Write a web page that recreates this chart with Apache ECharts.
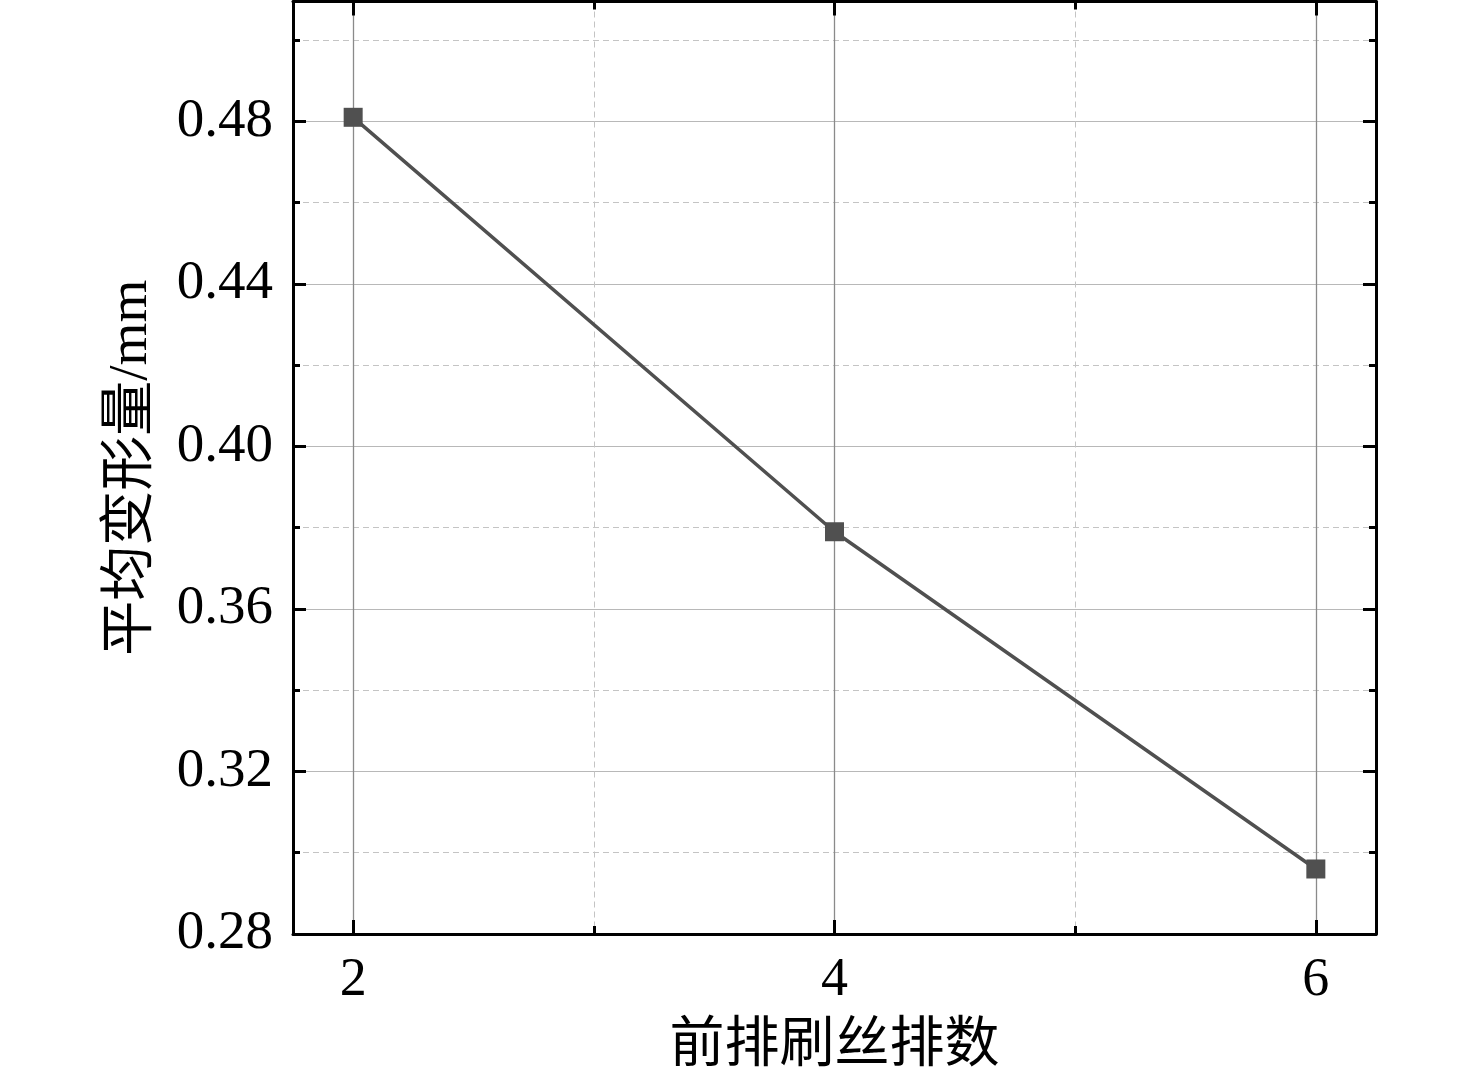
<!DOCTYPE html>
<html>
<head>
<meta charset="utf-8">
<script src="https://cdn.jsdelivr.net/npm/echarts@6/dist/echarts.min.js"></script>
<style>
html,body{margin:0;padding:0;background:#fff;}
#chart{width:1476px;height:1082px;}
</style>
</head>
<body>
<div id="chart"></div>
<script>
// Data
const rowCounts = [2, 4, 6];
const avgDeformation = [0.481, 0.379, 0.296];
const xMajorTicks = [2, 4, 6];
const xMinorTicks = [3, 5];
const yMajorTicks = [0.28, 0.32, 0.36, 0.40, 0.44, 0.48];
const yMinorTicks = [0.30, 0.34, 0.38, 0.42, 0.46, 0.50];
const xTitle = '前排刷丝排数';
const yTitle = '平均变形量/mm';

const X_MIN = 1.75, X_MAX = 6.25, Y_MIN = 0.28, Y_MAX = 0.5095;
const FONT = '"Liberation Serif", "Times New Roman", "Noto Sans CJK SC", serif';

function xAx(pos, ticks, len, opts) {
  return Object.assign({
    type: 'value', position: pos, min: X_MIN, max: X_MAX, offset: 0,
    axisLine: { show: false },
    axisTick: { show: true, inside: true, length: len, customValues: ticks, lineStyle: { color: '#000', width: 3 } },
    axisLabel: { show: false },
    splitLine: { show: false }
  }, opts || {});
}
function yAx(pos, ticks, len, opts) {
  return Object.assign({
    type: 'value', position: pos, min: Y_MIN, max: Y_MAX, offset: 0,
    axisLine: { show: false },
    axisTick: { show: true, inside: true, length: len, customValues: ticks, lineStyle: { color: '#000', width: 3 } },
    axisLabel: { show: false },
    splitLine: { show: false }
  }, opts || {});
}

const option = {
  backgroundColor: '#fff',
  animation: false,
  grid: { left: 293, right: 100, top: 1.5, bottom: 148, containLabel: false },
  xAxis: [
    xAx('bottom', xMajorTicks, 14, {
      axisLine: { show: true, onZero: false, lineStyle: { color: '#000', width: 3 } },
      axisLabel: { show: true, customValues: xMajorTicks, margin: 20, color: '#000', fontSize: 54, fontFamily: FONT },
      splitLine: { show: true, lineStyle: { color: '#8a8a8a', width: 1.3 } },
      name: xTitle, nameLocation: 'middle', nameGap: 85,
      nameTextStyle: { color: '#000', fontSize: 55, fontFamily: FONT }
    }),
    xAx('bottom', xMinorTicks, 8, {
      splitLine: { show: true, lineStyle: { color: '#c4c4c4', width: 1, type: [6, 4] } }
    }),
    xAx('top', xMajorTicks, 14, {
      axisLine: { show: true, onZero: false, lineStyle: { color: '#000', width: 3 } }
    }),
    xAx('top', xMinorTicks, 8)
  ],
  yAxis: [
    yAx('left', yMajorTicks, 13, {
      axisLine: { show: true, onZero: false, lineStyle: { color: '#000', width: 3 } },
      axisLabel: { show: true, customValues: yMajorTicks, margin: 20, color: '#000', fontSize: 55, fontFamily: FONT,
        formatter: v => v.toFixed(2) },
      splitLine: { show: true, lineStyle: { color: '#b8b8b8', width: 1.2 } },
      name: yTitle, nameLocation: 'middle', nameGap: 134, nameRotate: 90,
      nameTextStyle: { color: '#000', fontSize: 55, fontFamily: FONT }
    }),
    yAx('left', yMinorTicks, 7, {
      splitLine: { show: true, lineStyle: { color: '#c4c4c4', width: 1, type: [6, 4] } }
    }),
    yAx('right', yMajorTicks, 13, {
      axisLine: { show: true, onZero: false, lineStyle: { color: '#000', width: 3 } }
    }),
    yAx('right', yMinorTicks, 7)
  ],
  series: [{
    type: 'line',
    xAxisIndex: 0, yAxisIndex: 0,
    data: rowCounts.map((x, i) => [x, avgDeformation[i]]),
    symbol: 'rect', symbolSize: 19,
    itemStyle: { color: '#505050' },
    lineStyle: { color: '#505050', width: 3.5 },
    z: 5
  }]
};

const chart = echarts.init(document.getElementById('chart'), null, { renderer: 'canvas' });
chart.setOption(option);
</script>
</body>
</html>
